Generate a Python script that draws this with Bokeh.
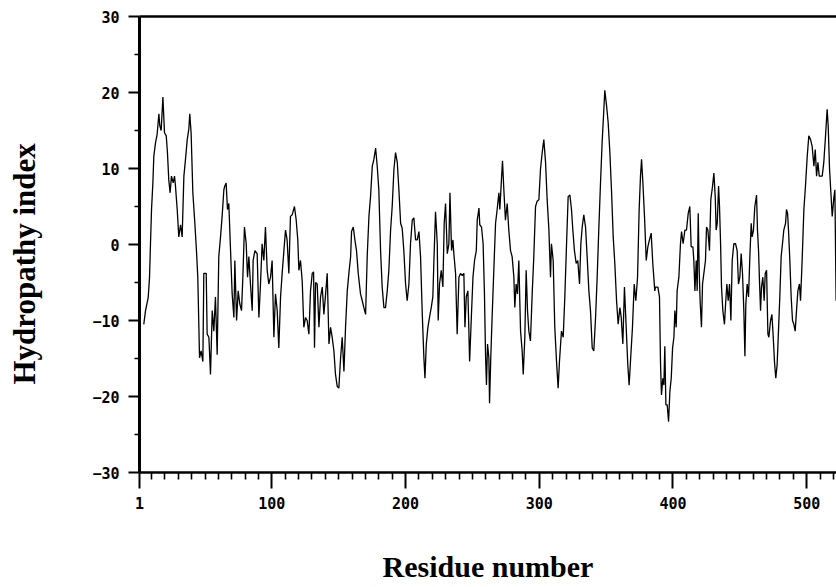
from bokeh.plotting import figure
from bokeh.models import Range1d, FixedTicker, LinearAxis
from bokeh.embed import file_html
from bokeh.resources import INLINE

# Hydropathy profile (residue number, hydropathy index)
residue = [
    4.2, 5.5, 7.5, 8.5, 9.2, 10.0, 11.0, 11.7, 13.0, 14.2, 15.5, 16.2, 17.2, 18.5, 19.7,
    21.0, 21.9, 22.9, 23.9, 24.9, 26.2, 27.2, 27.9, 29.2, 30.4, 31.7, 32.9, 34.2, 35.4,
    36.7, 37.9, 38.6, 39.6, 40.9, 42.4, 43.6, 44.6, 45.9, 47.1, 48.4, 49.1, 50.9, 51.6,
    52.9, 54.1, 55.4, 56.6, 57.8, 59.1, 60.3, 61.6, 62.8, 64.1, 64.8, 65.8, 66.8, 67.8,
    69.1, 70.3, 71.6, 72.3, 73.6, 74.8, 76.0, 77.3, 78.3, 79.5, 80.8, 81.8, 82.8, 84.0,
    85.3, 86.0, 87.3, 89.0, 90.3, 91.5, 92.7, 94.0, 95.2, 96.5, 97.7, 99.0, 100.2, 101.5,
    102.7, 104.0, 105.2, 106.5, 107.7, 109.0, 110.2, 111.4, 112.7, 113.9, 115.2, 116.9,
    118.2, 119.4, 120.2, 121.4, 122.7, 123.9, 125.2, 126.4, 127.7,
    128.9, 130.2, 131.2, 131.9, 132.7, 133.9, 135.2, 136.4, 137.7, 138.9, 140.2, 141.4,
    142.7, 143.9, 145.1, 146.4, 147.6, 148.9, 150.1, 151.4, 152.6, 153.9, 155.1, 156.4,
    157.6, 158.9, 159.6, 160.9, 162.1, 163.3, 164.6, 166.3, 167.6, 168.8, 170.1, 171.3,
    172.6, 173.8, 175.1, 176.3, 177.6, 178.8, 180.0, 181.3, 182.5, 183.8, 185.0, 186.3,
    187.5, 188.8, 190.0, 191.3, 192.5, 193.8, 195.0, 196.3, 197.5, 198.7, 200.0, 201.2,
    202.5, 203.7, 205.0, 206.2, 207.5, 208.7, 210.0, 211.2, 212.5, 213.7, 214.5, 215.5,
    216.7, 217.9, 219.2, 220.4, 221.2, 222.4, 223.7, 224.4, 225.4, 226.7, 227.9, 228.9,
    229.9, 231.2, 232.4, 233.2, 234.4, 235.4, 236.1, 237.4, 238.6, 239.9, 241.1, 242.4,
    243.6, 244.4, 245.4, 246.6, 247.9, 249.1, 250.4, 251.6, 252.9, 253.6, 254.9,
    255.5, 256.8, 258.0, 259.0, 259.8, 260.5, 261.3, 262.3, 262.8, 263.8, 264.8, 266.0,
    267.3, 268.5, 269.8, 270.5, 271.7, 272.5, 273.5, 274.7, 276.0, 277.2, 278.5, 279.7,
    281.0, 281.7, 282.7, 283.7, 284.7, 286.0, 287.2, 288.0, 289.2, 290.2, 291.2, 292.2,
    293.4, 294.7, 295.9, 297.2, 298.4, 299.7, 300.9, 302.2, 303.4, 304.7, 305.9, 307.2,
    308.4, 309.1, 310.4, 311.6, 312.9, 314.1, 315.1, 316.6, 317.9, 319.1, 320.4, 321.6,
    322.9, 324.1, 325.1, 326.3, 327.6, 328.8, 330.1, 331.1, 332.1, 333.3, 334.6, 335.8,
    337.1, 338.3, 339.6, 340.8, 342.1, 343.3, 344.5, 345.8, 347.0, 348.3, 349.0, 350.3,
    351.5, 352.8, 354.0, 355.3, 356.5, 357.8, 359.0, 360.3, 361.3, 362.5, 363.7, 365.0,
    366.2, 367.2, 368.5, 369.7, 371.0, 372.2, 373.5, 374.7, 375.7, 376.5, 377.5, 378.7,
    380.0, 381.2, 382.4, 383.7, 384.9, 386.4,
    386.9, 388.7, 389.9, 390.7, 391.4, 392.4, 393.2, 393.9, 394.7, 395.7, 396.7, 397.7,
    398.7, 399.7, 400.7, 401.4, 402.4, 403.1, 404.4, 405.6, 406.4, 407.6, 408.9, 410.1,
    411.4, 412.6, 413.6, 414.9, 415.6, 416.4, 417.4, 418.1, 418.9, 419.6, 420.3, 421.3,
    422.1, 423.1, 424.3, 425.1, 426.1, 427.3, 428.3, 429.6, 430.6, 431.6, 432.3, 433.1,
    434.1, 434.8, 435.6, 436.3, 437.3, 438.5, 439.5, 440.3, 441.3, 442.3, 443.3, 444.3,
    445.5, 446.8, 448.0, 449.0, 450.0, 451.0, 452.0, 453.0, 453.8, 454.5, 455.5, 456.5,
    457.5, 458.5, 459.2, 460.2, 461.2, 462.5, 463.2, 464.0, 464.7, 465.5, 466.2, 467.2,
    468.2, 469.0, 470.0, 471.0, 471.7, 473.0, 474.0, 475.0, 475.9, 476.9, 477.9, 478.9,
    479.9, 480.9, 481.9, 482.9, 484.2, 484.9, 485.7, 486.4, 487.4, 488.4, 489.4, 490.4,
    491.4, 492.4, 493.4, 494.6, 495.4, 496.6, 497.9, 499.1, 500.4, 501.6, 502.9, 504.1,
    505.4, 506.4, 507.4, 508.4, 509.4, 510.4, 511.6, 512.8, 514.1, 515.3, 516.1, 517.1,
    518.1, 519.1, 520.4, 521.1, 522.0,
]
hydropathy = [
    -10.5, -8.7, -7.0, -4.3, 0.0, 4.6, 8.1, 11.6, 13.4, 14.5, 17.2, 15.6, 15.0, 19.4, 14.7,
    14.3, 12.1, 8.5, 6.8, 9.0, 8.1, 9.0, 7.7, 4.6, 1.0, 2.6, 1.0, 9.0, 11.2,
    13.8, 15.2, 17.2, 14.7, 6.8, 2.8, -0.8, -4.3, -14.9, -14.0, -15.4, -3.8, -3.8, -11.8,
    -12.2, -17.1, -8.7, -11.4, -6.9, -14.5, -1.6, 1.0, 3.7, 7.2, 7.7, 8.1, 4.6, 5.4,
    -0.8, -6.5, -9.6, -2.1, -10.0, -6.1, -7.8, -8.7, -4.3, 2.3, 0.1, -4.3, -1.6, -5.2,
    -8.7, -2.1, -0.8, -1.2, -9.6, -5.2, 0.1, -2.1, 2.3, -3.4, -5.2, -4.3, -2.1, -12.2,
    -6.5, -8.7, -13.6, -6.9, -3.8, -0.8, 1.9, 0.6, -3.8, 3.7, 3.9, 5.0,
    3.2, 0.6, -3.4, -2.1, -4.8, -10.9, -9.6, -10.0, -11.8,
    -6.1, -3.8, -3.6, -13.6, -5.0, -5.2, -10.9, -6.9, -5.6, -9.2, -6.5, -3.8,
    -13.1, -10.9, -12.2, -14.0, -17.1, -18.7, -18.9, -14.9, -12.2, -16.7, -10.9, -6.1,
    -3.8, -1.6, 1.7, 2.3, 0.6, -0.8, -3.8, -6.5, -7.4, -8.3, -9.2, -1.6,
    3.7, 6.3, 10.3, 11.2, 12.7, 10.3, 7.2, -0.8, -5.6, -8.3, -8.3, -6.1,
    -3.4, 1.9, 5.0, 9.9, 12.1, 10.8, 7.2, 2.8, 2.1, -0.8, -5.2, -7.4,
    -5.2, 0.1, 3.2, 3.5, 0.6, 0.6, 1.7, -1.6, -9.2, -14.9, -17.6, -13.1,
    -10.9, -9.6, -8.3, -6.9, -2.1, 4.3, 0.1, -10.0, -5.2, -3.4, -5.6, 2.8,
    5.4, -1.2, 0.1, 6.8, -0.8, 0.6, -1.2, -3.8, -11.8, -4.3, -3.8, -4.1,
    -3.8, -10.9, -6.9, -6.1, -15.4, -10.0, -4.3, -2.1, -0.8, 3.2, 4.8,
    2.6, 2.3, 0.1, -6.5, -14.5, -18.5, -13.1, -14.9, -20.9, -14.5, -9.2, -3.4,
    2.8, 4.6, 6.8, 4.6, 8.5, 11.0, 7.2, 3.2, 5.4, 1.9, -0.8, -1.6,
    -4.3, -8.3, -5.2, -6.5, -2.1, -11.4, -14.0, -17.1, -12.2, -3.4, -8.7, -11.4,
    -12.7, -6.5, -1.6, 5.0, 5.7, 5.9, 9.9, 12.1, 13.8, 10.8, 5.9, 1.9,
    -4.3, 0.1, -2.1, -10.9, -15.4, -18.9, -15.4, -11.4, -12.2, -6.9, 0.1, 6.3,
    6.5, 4.6, 1.9, -0.8, -2.5, -2.1, -5.2, 0.1, 2.3, 3.9, 2.3, -1.6,
    -6.1, -8.7, -13.6, -14.0, -9.6, -4.3, 1.9, 8.1, 13.4, 17.8, 20.3, 18.3,
    16.1, 12.1, 7.2, 1.0, -2.5, -7.4, -10.5, -8.3, -9.6, -13.1, -5.6, -10.9,
    -15.8, -18.5, -14.5, -10.9, -5.2, -7.4, -4.3, 4.6, 9.0, 11.2, 8.1, 3.7,
    -2.1, -0.3, 0.6, 1.5, -2.5, -6.1,
    -5.6, -5.6, -6.9, -15.8, -19.8, -17.6, -18.5, -13.4, -21.1, -21.1, -23.3, -19.3,
    -17.6, -13.6, -12.2, -8.7, -10.9, -6.1, -4.3, 0.1, 1.7, 0.1, 1.9, 1.9,
    4.1, 5.0, -0.3, -0.3, -2.1, -6.1, -2.1, -6.1, 4.1, -3.4, -7.4, -10.9,
    -5.2, -3.8, -2.1, 2.3, 1.9, -0.8, 5.9, 7.7, 9.4, 6.3, 1.9, 2.8,
    7.7, 5.0, 0.1, -5.6, -8.7, -10.5, -7.4, -5.2, -7.4, -5.2, -10.0, -2.1,
    0.1, 0.1, -0.8, -5.2, -4.3, -1.2, -3.8, -8.7, -14.7, -7.8, -5.2, -6.9,
    -1.6, 2.8, 1.0, 1.9, 5.0, 6.5, 1.9, -0.8, -4.8, -8.7, -5.6, -4.3,
    -7.4, -3.8, -3.4, -11.8, -12.2, -10.0, -9.2, -12.2, -15.4, -17.6, -15.8, -11.4,
    -6.9, -1.6, 0.1, 1.9, 2.8, 4.6, 4.1, 1.9, -2.1, -6.9, -10.0, -10.5,
    -11.4, -8.7, -6.1, -5.2, -7.4, -2.1, 4.6, 7.7, 11.6, 14.3, 13.8, 12.9,
    10.3, 12.5, 9.0, 10.8, 9.0, 9.0, 9.0, 10.8, 14.3, 17.8, 15.6, 9.9,
    6.8, 3.7, 6.3, 7.2, -7.4,
]

x_major_ticks = [1, 100, 200, 300, 400, 500]
x_minor_ticks = [10, 20, 30, 40, 50, 60, 70, 80, 90, 110, 120, 130, 140, 150, 160, 170,
                 180, 190, 210, 220, 230, 240, 250, 260, 270, 280, 290, 310, 320, 330,
                 340, 350, 360, 370, 380, 390, 410, 420, 430, 440, 450, 460, 470, 480,
                 490, 510, 520]
y_major_ticks = [-30, -20, -10, 0, 10, 20, 30]
y_minor_ticks = [-25, -15, -5, 5, 15, 25]

p = figure(width=836, height=587, output_backend="svg", toolbar_location=None,
           x_range=Range1d(1, 522.3), y_range=Range1d(-30, 30),
           min_border_left=139, min_border_right=0, min_border_top=16,
           min_border_bottom=115, background_fill_color="white",
           border_fill_color="white")
p.outline_line_color = None
p.grid.visible = False

p.line(residue, hydropathy, line_color="black", line_width=1.3)

tick_font = "DejaVu Sans Mono"
title_font = "Liberation Serif"

xa = p.xaxis[0]
xa.ticker = FixedTicker(ticks=x_major_ticks, minor_ticks=x_minor_ticks)
xa.axis_line_width = 2.5
xa.axis_line_color = "black"
xa.major_tick_in = 0
xa.major_tick_out = 16
xa.major_tick_line_width = 2
xa.minor_tick_in = 0
xa.minor_tick_out = 7
xa.minor_tick_line_width = 1.6
xa.major_label_text_font = tick_font
xa.major_label_text_font_style = "bold"
xa.major_label_text_font_size = "15px"
xa.major_label_text_color = "black"
xa.major_label_standoff = 8
xa.axis_label = "Residue number"
xa.axis_label_text_font = title_font
xa.axis_label_text_font_style = "bold"
xa.axis_label_text_font_size = "30px"
xa.axis_label_text_color = "black"
xa.axis_label_standoff = 38

ya = p.yaxis[0]
ya.ticker = FixedTicker(ticks=y_major_ticks, minor_ticks=y_minor_ticks)
ya.axis_line_width = 3
ya.axis_line_color = "black"
ya.major_tick_in = 0
ya.major_tick_out = 11
ya.major_tick_line_width = 2
ya.minor_tick_in = 0
ya.minor_tick_out = 5
ya.minor_tick_line_width = 1.6
ya.major_label_text_font = tick_font
ya.major_label_text_font_style = "bold"
ya.major_label_text_font_size = "15px"
ya.major_label_text_color = "black"
ya.major_label_standoff = 9
# trailing no-break spaces move the visible title slightly below the frame centre
ya.axis_label = "Hydropathy index" + "\u00a0" * 5
ya.axis_label_text_font = title_font
ya.axis_label_text_font_style = "bold"
ya.axis_label_text_font_size = "31px"
ya.axis_label_text_color = "black"
ya.axis_label_standoff = 47

top = LinearAxis(ticker=FixedTicker(ticks=[]), axis_line_width=2.5,
                 axis_line_color="black", major_tick_out=0, major_tick_in=0,
                 minor_tick_out=0, minor_tick_in=0)
p.add_layout(top, "above")

open("out.html", "w").write(file_html(p, INLINE))
